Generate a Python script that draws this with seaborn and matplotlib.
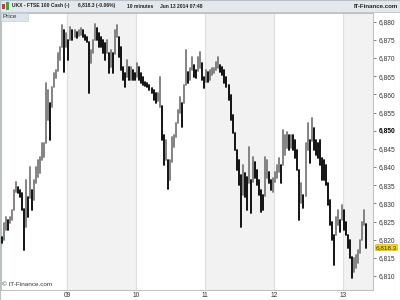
import matplotlib
matplotlib.use("Agg")
import matplotlib.pyplot as plt
import matplotlib.transforms as mtransforms
from matplotlib.patches import Rectangle
import numpy as np
import pandas as pd
import seaborn as sns

# ---------------- data (15-min bars, high / low) ----------------
day_labels = ["09", "10", "11", "12", "13"]

high_06 = [6820.8, 6824.7, 6826.3, 6825.5, 6826.3, 6828.25, 6833.75, 6835.95, 6834.6, 6833.75,
           6832.9, 6828.5, 6836.5, 6831.8, 6840.1, 6833.75, 6836.5, 6840.1, 6842.0, 6842.8,
           6846.7, 6846.7, 6863.2, 6861.25, 6857.7, 6862.1, 6865.9, 6866.75, 6871.4, 6873.1,
           6879.0, 6877.75, 6876.9]
low_06 = [6819.2, 6820.0, 6822.75, 6822.75, 6824.7, 6825.5, 6828.25, 6833.2, 6832.9, 6831.8,
          6828.25, 6817.25, 6823.6, 6826.3, 6831.5, 6828.25, 6831.0, 6835.7, 6837.3, 6838.4,
          6842.0, 6842.8, 6846.5, 6853.0, 6847.5, 6856.6, 6862.1, 6864.55, 6866.5, 6869.5,
          6873.0, 6866.2, 6873.1]

high_09 = [6875.0, 6878.5, 6877.75, 6877.75, 6877.2, 6877.75, 6878.3, 6877.75, 6876.4, 6875.8,
           6874.5, 6872.25, 6875.0, 6879.5, 6878.3, 6876.9, 6875.8, 6875.0, 6874.2, 6875.0,
           6871.5, 6872.25, 6871.4, 6877.75, 6879.0, 6875.8, 6873.1, 6867.6, 6865.9, 6869.5,
           6867.6, 6867.6, 6866.75, 6865.9]
low_09 = [6869.5, 6875.0, 6875.0, 6875.8, 6875.55, 6876.1, 6876.4, 6875.8, 6875.0, 6874.45,
          6860.4, 6868.7, 6871.4, 6875.0, 6875.0, 6873.1, 6873.1, 6871.4, 6869.5, 6871.4,
          6865.9, 6867.6, 6865.9, 6871.0, 6875.8, 6870.3, 6866.75, 6864.0, 6862.1, 6864.8,
          6864.0, 6864.0, 6864.0, 6864.0]

high_10 = [6868.7, 6867.6, 6865.9, 6864.8, 6863.45, 6863.2, 6862.6, 6861.8, 6861.25, 6860.4,
           6860.4, 6864.8, 6856.8, 6848.9, 6847.5, 6842.0, 6842.0, 6848.3, 6848.9, 6852.2,
           6855.75, 6859.3, 6857.7, 6862.6, 6872.25, 6866.2, 6867.3, 6870.3, 6868.1, 6866.75,
           6870.3, 6871.7, 6868.7, 6864.8]
low_10 = [6864.8, 6864.0, 6863.2, 6862.6, 6862.35, 6862.1, 6861.25, 6860.4, 6858.5, 6857.7,
          6858.2, 6856.6, 6847.5, 6840.6, 6842.0, 6834.0, 6836.5, 6841.5, 6845.6, 6848.3,
          6852.0, 6854.9, 6851.1, 6857.5, 6862.5, 6863.2, 6864.0, 6866.75, 6864.8, 6864.55,
          6866.5, 6867.3, 6864.0, 6861.8]

high_11 = [6866.75, 6866.2, 6866.75, 6867.3, 6867.3, 6868.95, 6870.3, 6868.1, 6867.6, 6866.75,
           6864.8, 6862.6, 6859.9, 6854.4, 6849.5, 6844.75, 6842.0, 6837.9, 6840.6, 6838.4,
           6837.3, 6845.6, 6836.5, 6842.8, 6841.45, 6839.25, 6836.5, 6833.75, 6832.4, 6842.8,
           6842.0, 6838.7, 6836.5, 6837.05]
low_11 = [6863.45, 6863.45, 6864.0, 6865.4, 6865.9, 6866.75, 6867.3, 6866.2, 6865.4, 6863.2,
          6862.1, 6858.5, 6853.0, 6849.4, 6844.75, 6839.25, 6835.1, 6823.6, 6832.4, 6831.8,
          6828.25, 6835.7, 6827.4, 6836.0, 6837.05, 6835.1, 6832.4, 6827.7, 6828.25, 6832.0,
          6837.05, 6835.7, 6833.75, 6833.2]

high_12 = [6838.7, 6840.6, 6842.55, 6840.6, 6850.25, 6848.9, 6849.7, 6848.9, 6848.9, 6848.9,
           6847.5, 6844.75, 6839.25, 6835.7, 6832.4, 6846.7, 6852.2, 6847.5, 6853.55, 6850.8,
           6847.5, 6846.7, 6847.5, 6842.55, 6842.0, 6840.6, 6835.7, 6831.0, 6824.95, 6821.4,
           6826.3, 6828.25, 6825.5, 6829.6]
low_12 = [6835.95, 6837.05, 6838.7, 6835.7, 6840.5, 6843.4, 6845.3, 6844.75, 6845.3, 6844.75,
          6842.55, 6839.25, 6825.5, 6830.2, 6828.8, 6832.0, 6844.75, 6841.2, 6847.3, 6844.75,
          6843.4, 6842.55, 6840.6, 6836.5, 6836.5, 6835.1, 6829.6, 6824.1, 6820.0, 6813.1,
          6821.4, 6824.1, 6822.2, 6825.5]

high_13 = [6828.25, 6824.95, 6821.4, 6820.0, 6815.2, 6815.05, 6815.9, 6817.25, 6820.0, 6824.95,
           6828.25, 6824.3]
low_13 = [6822.75, 6821.4, 6817.8, 6815.05, 6809.55, 6811.2, 6812.3, 6813.7, 6816.4, 6819.8,
          6824.1, 6817.8]

last_price = 6818.3
y_ticks = [6810, 6815, 6820, 6825, 6830, 6835, 6840, 6845, 6850, 6855, 6860, 6865, 6870, 6875, 6880]

# ---------------- build table ----------------
highs = high_06 + high_09 + high_10 + high_11 + high_12 + high_13
lows = low_06 + low_09 + low_10 + low_11 + low_12 + low_13
day_sizes = [len(high_06), len(high_09), len(high_10), len(high_11), len(high_12), len(high_13)]
starts = np.cumsum([0] + day_sizes[:-1])
boundaries = [s - 0.5 for s in starts[1:]]

n = len(highs)
mid = (np.array(highs) + np.array(lows)) / 2
direction = ["up" if (i > 0 and mid[i] >= mid[i - 1]) else "down" for i in range(n)]
rows = []
for i in range(n):
    rows.append({"bar": i, "x": i, "price": highs[i], "dir": direction[i]})
    rows.append({"bar": i, "x": i, "price": lows[i], "dir": direction[i]})
df = pd.DataFrame(rows)

# ---------------- figure ----------------
sns.set_theme(style="white")
plt.rcParams["font.family"] = ["Liberation Sans", "DejaVu Sans"]

fig = plt.figure(figsize=(4, 3), dpi=100)
fig.patch.set_facecolor("white")
ax = fig.add_axes([0.0025, 1 - 290 / 300, 0.93, (290 - 13) / 300])
ax.set_facecolor("white")

xmin, xmax = -0.27, 183.3
ax.set_xlim(xmin, xmax)
ax.set_ylim(6806.15, 6882.4)

# alternate day shading
band_color = "#f2f2f2"
ax.axvspan(boundaries[0] + 0.5, boundaries[1], color=band_color, zorder=0, lw=0)
ax.axvspan(boundaries[2], boundaries[3], color=band_color, zorder=0, lw=0)
ax.axvspan(boundaries[4], xmax, color=band_color, zorder=0, lw=0)
for b in boundaries:
    ax.axvline(b, color="#dedede", lw=0.8, zorder=0.5)

sns.lineplot(data=df, x="x", y="price", units="bar", estimator=None, hue="dir",
             palette={"up": "#7a7a7a", "down": "#000000"}, legend=False,
             lw=1.3, sort=False, ax=ax, zorder=3)

ax.set_xlabel("")
ax.set_ylabel("")
ax.set_xticks(boundaries)
ax.set_xticklabels(day_labels)
ax.tick_params(axis="x", length=0, pad=1.5, labelsize=4.8, colors="#333333")
ax.yaxis.tick_right()
ax.set_yticks(y_ticks)
ax.set_yticklabels([f"{v:,}" for v in y_ticks])
ax.tick_params(axis="y", which="both", right=True, left=False, length=2.5, width=0.5,
               pad=1.5, labelsize=4.8, colors="#555555", labelcolor="#333333")
for lab, v in zip(ax.get_yticklabels(), y_ticks):
    if v == 6850:
        lab.set_fontweight("bold")
        lab.set_color("#000000")
for s in ax.spines.values():
    s.set_color("#b4b4b4")
    s.set_linewidth(0.6)
ax.grid(False)

# last price label
trans = mtransforms.blended_transform_factory(ax.transAxes, ax.transData)
ax.text(1.006, last_price - 0.4, f"{last_price:,.1f}", transform=trans, fontsize=4.6,
        va="center", ha="left", color="#333333",
        bbox=dict(boxstyle="square,pad=0.1", fc="#f7d417", ec="#d4b000", lw=0.4))

ax.text(0.004, 0.012, "\u00a9 IT-Finance.com", transform=ax.transAxes, fontsize=4.6,
        color="#333333", va="bottom", ha="left")

# header bar
fig.patches.append(Rectangle((0, 1 - 12 / 300), 1, 12 / 300, transform=fig.transFigure,
                             fc="#e3e8ed", ec="#b8c0c8", lw=0.6, zorder=0))
fig.patches.append(Rectangle((2 / 400, 1 - 9 / 300), 3 / 400, 5 / 300, transform=fig.transFigure,
                             fc="#e03030", ec="none"))
fig.patches.append(Rectangle((6 / 400, 1 - 10 / 300), 3 / 400, 8 / 300, transform=fig.transFigure,
                             fc="#30b030", ec="none"))
header_parts = [(12, "UKX - FTSE 100 Cash (-)"), (78, "6,818.3 (-0.06%)"),
                (127, "10 minutes"), (160, "Jun 13 2014 07:48")]
for px, txt in header_parts:
    fig.text(px / 400, 1 - 6 / 300, txt, fontsize=3.6, fontweight="bold",
             va="center", ha="left", color="#222222")
fig.text(398 / 400, 1 - 6 / 300, "IT-Finance.com", fontsize=4.4, fontweight="bold",
         va="center", ha="right", color="#222222")

# "Price" tag
fig.patches.append(Rectangle((1 / 400, 1 - 21 / 300), 27 / 400, 8 / 300, transform=fig.transFigure,
                             fc="#dfe5ea", ec="#c0c8d0", lw=0.4, zorder=5))
fig.text(2.5 / 400, 1 - 17 / 300, "Price", fontsize=4.6, va="center", ha="left",
         color="#333333", zorder=6)

# outer border
fig.patches.append(Rectangle((0, 0), 1, 1, transform=fig.transFigure, fill=False,
                             ec="#b8c0c8", lw=0.8))

fig.savefig("out.png", dpi=100)
